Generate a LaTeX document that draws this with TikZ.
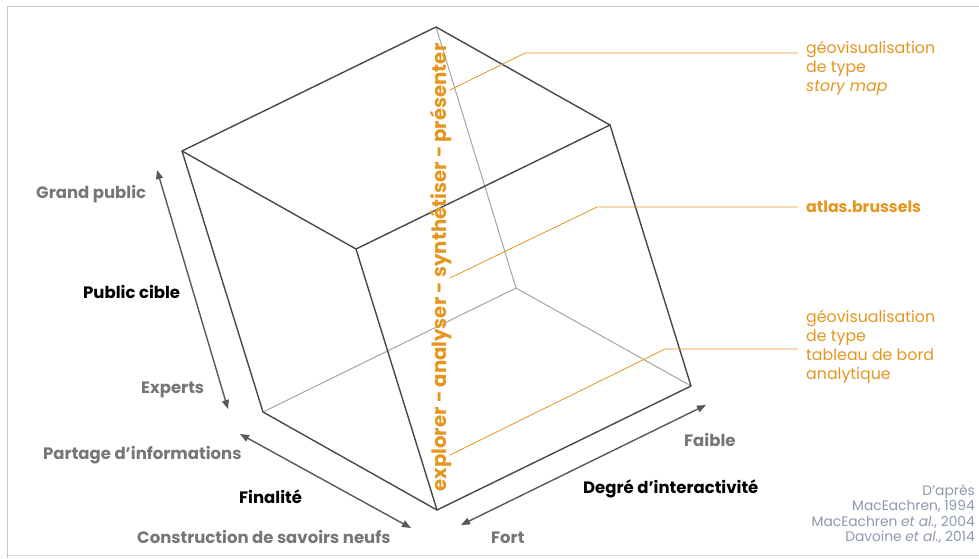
\documentclass[tikz,border=0pt]{standalone}
\usepackage{fontspec}
\setmainfont{Poppins}
\usetikzlibrary{arrows.meta}
\definecolor{org}{RGB}{228,150,30}
\definecolor{lblgray}{RGB}{118,118,118}
\definecolor{edgec}{RGB}{72,72,76}
\definecolor{hid}{RGB}{165,165,165}
\definecolor{citec}{RGB}{140,152,172}
\definecolor{arrc}{RGB}{88,88,88}
\definecolor{framec}{RGB}{200,200,200}
\begin{document}
\begin{tikzpicture}[x=1pt,y=-1pt,
  vis/.style={draw=edgec,line width=1.4pt,line join=round},
  hidden/.style={draw=hid,line width=1pt},
  dbl/.style={draw=arrc,line width=1.4pt,{Triangle[length=9pt,width=7pt]}-{Triangle[length=9pt,width=7pt]}},
  glabel/.style={text=lblgray,font=\bfseries\fontsize{16.5}{18}\selectfont,inner sep=0pt},
  blabel/.style={text=black,font=\bfseries\fontsize{16.5}{18}\selectfont,inner sep=0pt},
  olabel/.style={text=org,font=\fontsize{15.8}{19}\selectfont,inner sep=0pt,align=left},
  leader/.style={draw=org,line width=0.8pt},
  citelab/.style={text=citec,font=\fontsize{13.8}{15.5}\selectfont,inner sep=0pt,align=right}]
\useasboundingbox (0,0) rectangle (979,558);
% frame
\coordinate (f1) at (7.5,558); \coordinate (f2) at (7.5,6.5); \coordinate (f3) at (979,6.5);
\coordinate (f4) at (7.5,555.5); \coordinate (f5) at (979,555.5);
\draw[framec,line width=1.2pt] (f1) -- (f2) -- (f3);
\draw[framec!60,line width=0.8pt] (f4) -- (f5);
% cube vertices
\coordinate (T) at (436,27);
\coordinate (TL) at (182,151);
\coordinate (TR) at (610,125);
\coordinate (F) at (356,249);
\coordinate (B) at (516,288);
\coordinate (BL) at (263,412);
\coordinate (BR) at (691,386);
\coordinate (BF) at (437,510);
% hidden edges
\draw[hidden] (T) -- (B);
\draw[hidden] (BL) -- (B) -- (BR);
% visible edges
\draw[vis] (TL) -- (T) -- (TR) -- (F) -- cycle;
\draw[vis] (TL) -- (BL) -- (BF) -- (BR) -- (TR);
\draw[vis] (F) -- (BF);
% double arrows
\coordinate (a1) at (157,170); \coordinate (a2) at (228,409);
\coordinate (b1) at (240,434); \coordinate (b2) at (411,528);
\coordinate (c1) at (461,525); \coordinate (c2) at (706,405);
\draw[dbl] (a1) -- (a2);
\draw[dbl] (b1) -- (b2);
\draw[dbl] (c1) -- (c2);
% axis labels
\node[glabel,anchor=west] (gp) at (36,194) {Grand public};
\node[blabel,anchor=west] (pc) at (83,292) {Public cible};
\node[glabel,anchor=west] (ex) at (141,390) {Experts};
\node[glabel,anchor=west] (pi) at (43,455) {Partage d’informations};
\node[blabel,anchor=west] (fi) at (239,497) {Finalité};
\node[glabel,anchor=west] (cs) at (137,537) {Construction de savoirs neufs};
\node[glabel,anchor=west] (fo) at (491,538) {Fort};
\node[glabel,anchor=west] (fa) at (684,440) {Faible};
\node[blabel,anchor=west] (di) at (583,489) {Degré d’interactivité};
% vertical process text
\node[text=org,font=\bfseries\fontsize{19.7}{19.7}\selectfont,rotate=90,inner sep=0pt] (proc) at (441,267.5) {explorer - analyser - synthétiser - présenter};
% right labels with leaders
\coordinate (l1a) at (450,90); \coordinate (l1b) at (525,53); \coordinate (l1c) at (798,53);
\coordinate (l2a) at (450,278); \coordinate (l2b) at (597,207); \coordinate (l2c) at (798,207);
\coordinate (l3a) at (450,455); \coordinate (l3b) at (665,349); \coordinate (l3c) at (798,349);
\draw[leader] (l1a) -- (l1b) -- (l1c);
\draw[leader] (l2a) -- (l2b) -- (l2c);
\draw[leader] (l3a) -- (l3b) -- (l3c);
\node[olabel,anchor=north west] (sm) at (806,41) {géovisualisation\\de type\\\textit{story map}};
\node[olabel,anchor=west,font=\bfseries\fontsize{15.8}{19}\selectfont] (ab) at (806,207) {atlas.brussels};
\node[olabel,anchor=north west] (tb) at (806,310) {géovisualisation\\de type\\tableau de bord\\analytique};
% citation
\node[citelab,anchor=north east] (cit) at (975,484) {D’après\\MacEachren, 1994\\MacEachren \textit{et al.}, 2004\\Davoine \textit{et al.}, 2014};
\end{tikzpicture}
\end{document}
